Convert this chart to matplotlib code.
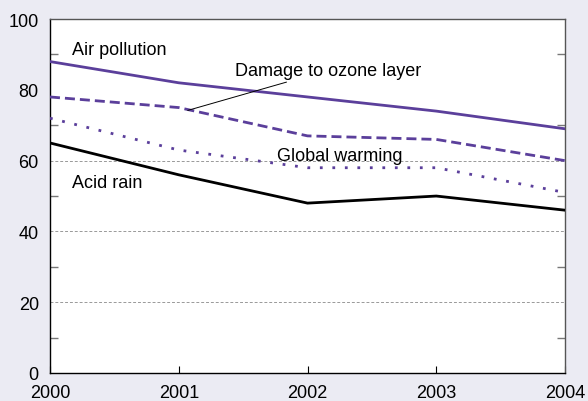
import matplotlib.pyplot as plt

years = [2000, 2001, 2002, 2003, 2004]
air_pollution = [88, 82, 78, 74, 69]
ozone_damage = [78, 75, 67, 66, 60]
global_warming = [72, 63, 58, 58, 51]
acid_rain = [65, 56, 48, 50, 46]

purple = '#5b3f9b'
bg = '#ebebf3'

plt.rcParams['font.family'] = ['Liberation Sans', 'DejaVu Sans']

fig = plt.figure(figsize=(5.88, 4.02), dpi=100, facecolor=bg)
ax = fig.add_axes([0.085, 0.0697, 0.876, 0.8803])
ax.set_facecolor('white')

# grid lines at 20, 40, 60
for g in [20, 40, 60]:
    ax.axhline(g, color='#999999', linestyle=(0, (3, 2)), linewidth=0.7, zorder=1)

ax.plot(years, air_pollution, color=purple, linewidth=2, zorder=3)
ax.plot(years, ozone_damage, color=purple, linewidth=2, linestyle=(0, (3.6, 1.8)), zorder=3)
ax.plot(years, global_warming, color=purple, linewidth=2, linestyle=(0, (1, 3.5)), zorder=3)
ax.plot(years, acid_rain, color='black', linewidth=2, zorder=3)

ax.set_xlim(2000, 2004)
ax.set_ylim(0, 100)
ax.set_xticks(years)
ax.set_yticks([0, 20, 40, 60, 80, 100])
ax.tick_params(axis='x', direction='in', length=5, width=0.8, labelsize=13, pad=8, color='black')
ax.tick_params(axis='y', length=0, labelsize=13, pad=8)
ax.set_yticks([10, 30, 50, 70, 90], minor=True)
ax.tick_params(axis='y', which='minor', direction='in', length=6, width=1, color='#777777',
               left=True, right=True)

for s in ax.spines.values():
    s.set_linewidth(1)
ax.spines['top'].set_color('#555555')
ax.spines['right'].set_color('#555555')

ax.text(2000.17, 90, 'Air pollution', fontsize=13)
ax.text(2000.17, 52.5, 'Acid rain', fontsize=13)
ax.text(2001.76, 60.3, 'Global warming', fontsize=13)
ax.annotate('Damage to ozone layer', xy=(2001.07, 74.2), xytext=(2001.44, 85.6),
            fontsize=13, va='center',
            arrowprops=dict(arrowstyle='-', color='black', linewidth=0.7, shrinkA=2, shrinkB=0))

fig.savefig('out.png', dpi=100, facecolor=bg)
